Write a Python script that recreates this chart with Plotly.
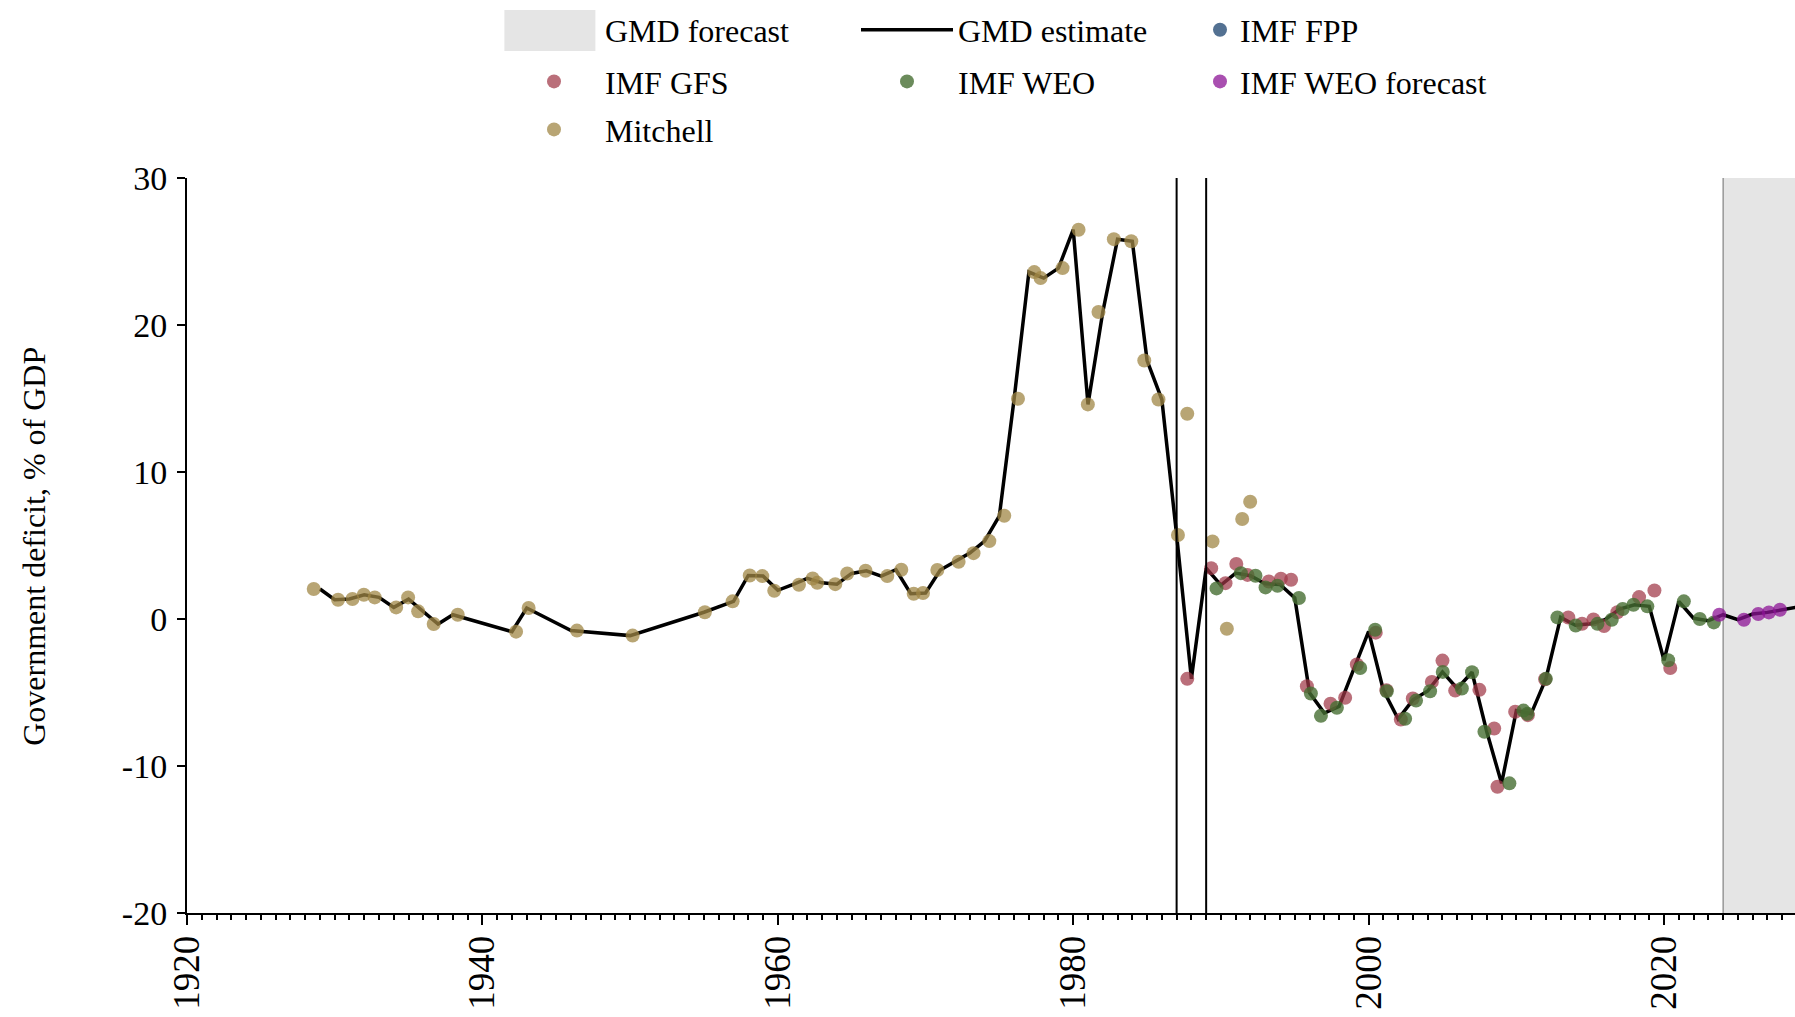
import plotly.graph_objects as go

# ---------------- data ----------------
gmd_years = [1929, 1930, 1931, 1932, 1933, 1934, 1935, 1936, 1937, 1938,
             1942, 1943, 1946, 1950, 1955, 1957, 1958, 1959, 1960, 1961,
             1962, 1963, 1964, 1965, 1966, 1967, 1968, 1969, 1970, 1971,
             1972, 1973, 1974, 1975, 1976, 1977, 1978, 1979, 1980, 1981,
             1982, 1983, 1984, 1985, 1986, 1987, 1988, 1989, 1990, 1991,
             1992, 1993, 1994, 1995, 1996, 1997, 1998, 1999, 2000, 2001,
             2002, 2003, 2004, 2005, 2006, 2007, 2008, 2009, 2010, 2011,
             2012, 2013, 2014, 2015, 2016, 2017, 2018, 2019, 2020, 2021,
             2022, 2023, 2024, 2025, 2026, 2027, 2028, 2029]
gmd_values = [2.04, 1.31, 1.36, 1.65, 1.47, 0.79, 1.35, 0.52, -0.34, 0.29,
              -0.86, 0.75, -0.79, -1.13, 0.46, 1.2, 2.96, 2.92, 1.95, 2.33,
              2.76, 2.46, 2.37, 3.1, 3.28, 2.92, 3.35, 1.72, 1.77, 3.33,
              3.89, 4.48, 5.3, 7.02, 14.98, 23.6, 23.19, 23.87, 26.48, 14.6,
              20.88, 25.84, 25.7, 17.58, 14.93, 5.71, -4.07, 3.46, 2.3, 3.12,
              2.94, 2.4, 2.35, 1.43, -5.02, -6.4, -5.95, -3.4, -0.84, -4.85,
              -6.8, -5.5, -4.9, -3.6, -4.73, -3.62, -7.67, -11.18, -6.23, -6.45,
              -4.07, 0.11, -0.43, -0.32, -0.05, 0.68, 0.97, 0.86, -2.81, 1.2,
              0.05, -0.12, 0.29, -0.05, 0.34, 0.45, 0.63, 0.8]

mitchell_x = [1928.58, 1930.23, 1931.2, 1931.97, 1932.71, 1934.16, 1934.97, 1935.65,
              1936.7, 1938.33, 1942.28, 1943.13, 1946.4, 1950.17, 1955.06, 1956.94,
              1958.1, 1958.95, 1959.76, 1961.43, 1962.36, 1962.67, 1963.89, 1964.7,
              1965.94, 1967.41, 1968.36, 1969.2, 1969.83, 1970.8, 1972.24, 1973.25,
              1974.32, 1975.33, 1976.26, 1977.36, 1977.79, 1979.28, 1980.36, 1980.99,
              1981.71, 1982.75, 1983.93, 1984.81, 1985.77, 1987.09, 1987.72, 1989.43,
              1990.4, 1991.44, 1991.98]
mitchell_y = [2.04, 1.31, 1.36, 1.65, 1.47, 0.79, 1.47, 0.52,
              -0.34, 0.29, -0.86, 0.75, -0.79, -1.13, 0.46, 1.2,
              2.96, 2.92, 1.92, 2.33, 2.76, 2.46, 2.37, 3.1,
              3.28, 2.92, 3.35, 1.72, 1.77, 3.33, 3.89, 4.48,
              5.3, 7.02, 14.98, 23.6, 23.19, 23.87, 26.48, 14.6,
              20.88, 25.84, 25.7, 17.58, 14.93, 5.71, 13.96, 5.28,
              -0.66, 6.8, 7.98]

gfs_x = [1987.72, 1989.34, 1990.31, 1991.04, 1991.8, 1993.24, 1994.06, 1994.75,
         1995.82, 1997.42, 1998.41, 1999.2, 2000.48, 2001.2, 2002.18, 2002.99,
         2004.28, 2005.0, 2005.86, 2007.5, 2008.5, 2008.72, 2009.92, 2010.78,
         2011.95, 2013.52, 2014.45, 2015.22, 2015.94, 2016.84, 2018.31, 2019.35,
         2020.42]
gfs_y = [-4.07, 3.46, 2.44, 3.75, 3.0, 2.55, 2.74, 2.67,
         -4.57, -5.77, -5.36, -3.1, -0.93, -4.85, -6.84, -5.41,
         -4.28, -2.83, -4.87, -4.82, -7.45, -11.41, -6.31, -6.54,
         -4.1, 0.1, -0.32, -0.03, -0.48, 0.46, 1.49, 1.94,
         -3.33]

weo_x = [1989.7, 1991.35, 1992.34, 1993.02, 1993.83, 1995.28, 1996.09, 1996.77,
         1997.85, 1999.43, 2000.44, 2001.23, 2002.47, 2003.21, 2004.16, 2005.02,
         2006.31, 2007.0, 2007.84, 2009.53, 2010.48, 2010.75, 2012.0, 2012.78,
         2014.02, 2015.49, 2016.46, 2017.2, 2017.93, 2018.87, 2020.28, 2021.34,
         2022.42, 2023.37]
weo_y = [2.08, 3.12, 2.94, 2.15, 2.26, 1.43, -5.07, -6.59,
         -6.04, -3.33, -0.73, -4.91, -6.79, -5.55, -4.91, -3.6,
         -4.73, -3.62, -7.67, -11.18, -6.23, -6.45, -4.07, 0.11,
         -0.44, -0.33, -0.05, 0.68, 0.97, 0.86, -2.81, 1.2,
         0.0, -0.23]

weo_fc_x = [2023.74, 2025.41, 2026.38, 2027.1, 2027.85]
weo_fc_y = [0.29, -0.05, 0.34, 0.45, 0.63]

fpp_x = [None]
fpp_y = [None]

forecast_start = 2024
break_years = [1987, 1989]
y_ticks = [-20, -10, 0, 10, 20, 30]
x_ticks = [1920, 1940, 1960, 1980, 2000, 2020]

# ---------------- layout geometry ----------------
OFF = 0                      # page body margin is removed by the post script
W_FIG, H_FIG = 1795 - OFF, 1017 - OFF
PLOT_L, PLOT_T, PLOT_B = 186.5, 178, 913.5    # page pixels
ML, MT, MR = PLOT_L - OFF, PLOT_T - OFF, 0
MB = H_FIG + OFF - PLOT_B
PW, PH = W_FIG - ML - MR, H_FIG - MT - MB
PX_PER_YEAR = 14.775
x_end = 1920 + PW / PX_PER_YEAR

def pxx(p):  # page x -> paper
    return (p - PLOT_L) / PW
def pxy(p):  # page y -> paper
    return (PLOT_B - p) / PH

FONT = "Liberation Serif"
C_MITCHELL = "rgba(160,135,70,0.75)"
C_GFS = "rgba(160,55,70,0.72)"
C_WEO = "rgba(70,110,50,0.8)"
C_WEOF = "rgba(140,20,150,0.75)"
C_FPP = "rgba(25,65,110,0.75)"
MS = 14

fig = go.Figure()

fig.add_trace(go.Scatter(x=[None], y=[None], mode="lines", name="GMD forecast",
                         line=dict(color="rgba(0,0,0,0)", width=0), legend="legend"))
fig.add_trace(go.Scatter(x=gmd_years, y=gmd_values, mode="lines", name="GMD estimate",
                         line=dict(color="black", width=3.5), legend="legend2"))
fig.add_trace(go.Scatter(x=fpp_x, y=fpp_y, mode="markers", name="IMF FPP",
                         marker=dict(color=C_FPP, size=MS), legend="legend3"))
fig.add_trace(go.Scatter(x=gfs_x, y=gfs_y, mode="markers", name="IMF GFS",
                         marker=dict(color=C_GFS, size=MS), legend="legend4"))
fig.add_trace(go.Scatter(x=weo_x, y=weo_y, mode="markers", name="IMF WEO",
                         marker=dict(color=C_WEO, size=MS), legend="legend5"))
fig.add_trace(go.Scatter(x=weo_fc_x, y=weo_fc_y, mode="markers", name="IMF WEO forecast",
                         marker=dict(color=C_WEOF, size=MS), legend="legend6"))
fig.add_trace(go.Scatter(x=mitchell_x, y=mitchell_y, mode="markers", name="Mitchell",
                         marker=dict(color=C_MITCHELL, size=MS), legend="legend7"))

def leg(page_left, page_y, itemwidth):
    return dict(xref="container", yref="container",
                x=(page_left - OFF) / W_FIG, y=1 - (page_y - OFF) / H_FIG,
                xanchor="left", yanchor="middle", bgcolor="rgba(0,0,0,0)", borderwidth=0,
                font=dict(family=FONT, size=32, color="black"), itemwidth=itemwidth,
                tracegroupgap=0)

row_y = [30, 81.6, 129.6]
col_left = [503, 856, 1200]
wide = 92

# forecast shading and break lines
fig.add_shape(type="rect", xref="x", yref="paper", x0=forecast_start, x1=x_end + 5, y0=0, y1=1,
              fillcolor="#e5e5e5", line=dict(width=0), layer="below")
fig.add_shape(type="line", xref="x", yref="paper", x0=forecast_start, x1=forecast_start, y0=0, y1=1,
              line=dict(color="rgb(128,128,128)", width=1.2), layer="below")
for by in break_years:
    fig.add_shape(type="line", xref="x", yref="paper", x0=by, x1=by, y0=0, y1=1,
                  line=dict(color="black", width=2), layer="above")

# legend icon for GMD forecast (large grey patch)
fig.add_shape(type="rect", xref="paper", yref="paper", x0=pxx(504), x1=pxx(595),
              y0=pxy(51), y1=pxy(10), fillcolor="#e5e5e5", line=dict(width=0), layer="above")

# y-axis title
fig.add_annotation(text="Government deficit, % of GDP", xref="paper", yref="paper",
                   x=pxx(34), y=pxy(546.5), xanchor="center", yanchor="middle",
                   textangle=-90, showarrow=False,
                   font=dict(family=FONT, size=32, color="black"))

fig.update_layout(
    width=W_FIG, height=H_FIG,
    margin=dict(l=ML, r=MR, t=MT, b=MB, pad=0, autoexpand=False),
    paper_bgcolor="white", plot_bgcolor="white",
    font=dict(family=FONT, color="black", size=32),
    showlegend=True,
    legend=leg(col_left[0], row_y[0], wide),
    legend2=leg(col_left[1], row_y[0], wide),
    legend3=leg(col_left[2], row_y[0], 30),
    legend4=leg(col_left[0], row_y[1], wide),
    legend5=leg(col_left[1], row_y[1], wide),
    legend6=leg(col_left[2], row_y[1], 30),
    legend7=leg(col_left[0], row_y[2], wide),
    xaxis=dict(range=[1920, x_end], tickmode="array", tickvals=x_ticks,
               ticktext=[str(v) for v in x_ticks], tickangle=-90,
               ticks="outside", ticklen=10, tickwidth=2, tickcolor="black",
               showline=True, linecolor="black", linewidth=2, showgrid=False, zeroline=False,
               tickfont=dict(family=FONT, size=37, color="black"), ticklabelstandoff=-4,
               minor=dict(dtick=1, tick0=1920, ticks="outside", ticklen=5, tickwidth=1.5,
                          tickcolor="black", showgrid=False)),
    yaxis=dict(range=[-20, 30], tickmode="array", tickvals=y_ticks,
               ticktext=[str(v) for v in y_ticks],
               ticks="outside", ticklen=8, tickwidth=2, tickcolor="black",
               showline=True, linecolor="black", linewidth=2, showgrid=False, zeroline=False,
               tickfont=dict(family=FONT, size=34, color="black"), ticklabelstandoff=3),
)

fig.write_html(
    "out.html",
    config={"displayModeBar": False},
    post_script="document.body.style.margin='0';document.body.style.overflow='hidden';",
)
